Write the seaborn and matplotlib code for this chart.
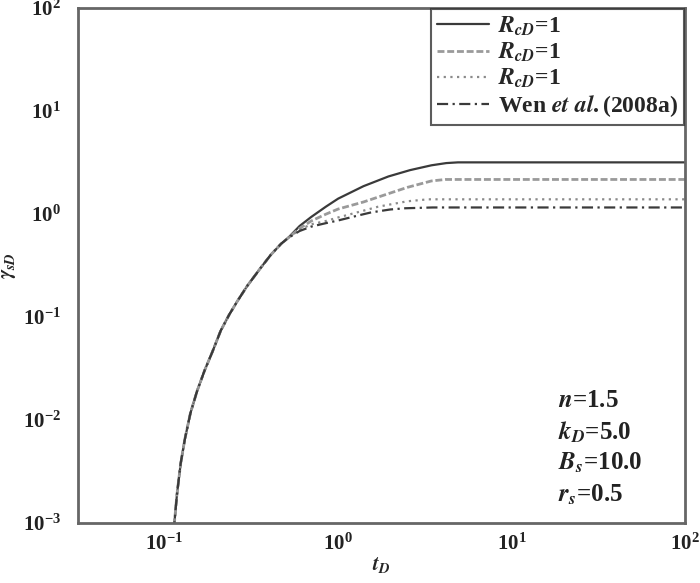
import numpy as np
import pandas as pd
import seaborn as sns
import matplotlib.pyplot as plt
from matplotlib.ticker import LogLocator, NullLocator

# common early-time branch (all curves coincide here)
t_common = [0.105, 0.114, 0.118, 0.124, 0.131, 0.141, 0.154, 0.170, 0.189,
            0.211, 0.236, 0.264, 0.30, 0.359, 0.41, 0.469, 0.514]
y_common = [0.0005, 0.001, 0.0019, 0.0038, 0.0065, 0.0116, 0.019, 0.030, 0.046,
            0.0736, 0.105, 0.1435, 0.20, 0.30, 0.40, 0.51, 0.58]

# late-time branches
t_solid = [0.6, 0.7, 0.85, 1.0, 1.4, 1.95, 2.6, 3.45, 4.2, 4.9, 100]
y_solid = [0.76, 0.93, 1.17, 1.40, 1.85, 2.30, 2.65, 2.95, 3.1, 3.15, 3.15]
t_dash = [0.6, 0.7, 0.85, 1.0, 1.4, 1.7, 2.5, 3.45, 4.15, 100]
y_dash = [0.72, 0.85, 0.99, 1.11, 1.30, 1.45, 1.80, 2.08, 2.15, 2.15]
t_dot = [0.6, 0.7, 0.85, 1.0, 1.4, 1.7, 2.5, 3.3, 100]
y_dot = [0.70, 0.79, 0.85, 0.92, 1.07, 1.17, 1.32, 1.38, 1.38]
t_wen = [0.6, 0.7, 0.85, 1.0, 1.3, 1.55, 2.0, 2.44, 3.5, 100]
y_wen = [0.68, 0.75, 0.81, 0.86, 0.96, 1.03, 1.10, 1.13, 1.15, 1.15]

labels = [r"$R_{cD}$=1", r"$R_{cD}$=1", r"$R_{cD}$=1", r"Wen $et\ al.$(2008a)"]

sns.set_style("white")
plt.rcParams['font.family'] = ['Liberation Serif', 'DejaVu Serif']
plt.rcParams['mathtext.fontset'] = 'stix'
plt.rcParams['font.weight'] = 'bold'

fig = plt.figure(figsize=(7, 5.83), dpi=100)
ax = fig.add_axes([0.111, 0.103, 0.868, 0.884])

styles = [
    (t_solid, y_solid, '#3a3a3a', '-', 1.6),
    (t_dash, y_dash, '#9a9a9a', (0, (2.5, 1)), 2.0),
    (t_dot, y_dot, '#8a8a8a', (0, (1, 2)), 1.6),
    (t_wen, y_wen, '#3a3a3a', (0, (5, 2, 1, 2)), 1.6),
]
for (tx, ty, c, ls, lw), lab in zip(styles, labels):
    df = pd.DataFrame({'t': t_common + tx, 'y': y_common + ty})
    sns.lineplot(data=df, x='t', y='y', ax=ax, color=c, linestyle=ls,
                 linewidth=lw, label=lab, sort=False)

ax.set_xscale('log')
ax.set_yscale('log')
ax.set_xlim(10**-1.5, 100)
ax.set_ylim(1e-3, 100)
ax.xaxis.set_major_locator(LogLocator(base=10, numticks=10))
ax.yaxis.set_major_locator(LogLocator(base=10, numticks=10))
ax.xaxis.set_minor_locator(NullLocator())
ax.yaxis.set_minor_locator(NullLocator())
ax.tick_params(direction='in', length=7, width=1.3, colors='#555555',
               labelcolor='#222222', labelsize=15, pad=8)
ax.tick_params(axis='y', pad=12)
for s in ax.spines.values():
    s.set_color('#666666')
    s.set_linewidth(2)

ax.set_xlabel(r"$t_D$", fontsize=15, labelpad=0)
ax.set_ylabel(r"$\gamma_{sD}$", fontsize=15)
ax.yaxis.set_label_coords(-0.098, 0.5)

leg = ax.legend(loc='upper right', fontsize=17, frameon=True, fancybox=False,
                handlelength=2.2, handletextpad=0.4, borderpad=0.25,
                labelspacing=0.12, borderaxespad=0.05)
leg.get_frame().set_edgecolor('#333333')
leg.get_frame().set_linewidth(1.5)

params = [r"$n$=1.5", r"$k_D$=5.0", r"$B_s$=10.0", r"$r_s$=0.5"]
for i, p in enumerate(params):
    ax.text(0.79, 0.238 - i * 0.061, p, transform=ax.transAxes, fontsize=18,
            color='#222222', va='center', ha='left')

fig.savefig('out.png', dpi=100)
